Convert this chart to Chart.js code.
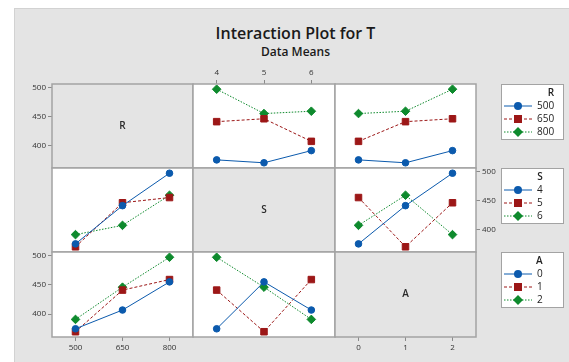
<!DOCTYPE html>
<html>
<head>
<meta charset="utf-8">
<script src="https://cdn.jsdelivr.net/npm/chart.js@4/dist/chart.umd.min.js"></script>
<style>
    html, body { margin: 0; padding: 0; background: #fff; }
    body { width: 569px; height: 362px; position: relative; overflow: hidden; font-family: "Open Sans", sans-serif; }
    #panel { position: absolute; left: 14px; top: 8px; width: 555px; height: 354px; background: #e4e4e4; border-top: 1px solid #d2d2d2; border-left: 1px solid #d2d2d2; }
    .txt { position: absolute; left: 18px; width: 555px; text-align: center; color: #1a1a1a; font-weight: 600; white-space: nowrap; }
    #title { top: 22px; font-size: 16px; }
    #subtitle { top: 43px; font-size: 12px; }
    .cell { position: absolute; }
</style>
</head>
<body>
<div id="panel"></div>
<div id="title" class="txt">Interaction Plot for T</div>
<div id="subtitle" class="txt">Data Means</div>
<script>

const factorNames = ['R', 'S', 'A'];
const rLevels = ['500', '650', '800'];
const sLevels = ['4', '5', '6'];
const aLevels = ['0', '1', '2'];
const levels = [rLevels, sLevels, aLevels];

// data means of T: rows = levels of the first factor, columns = levels of the second
const meanRS = [[375, 370, 391], [441, 446, 407], [497, 455, 459]];
const meanRA = [[375, 370, 391], [407, 441, 446], [455, 459, 497]];
const meanSA = [[375, 441, 497], [455, 370, 446], [407, 459, 391]];

const yTicks = [400, 450, 500];
const yMin = 361;
const yMax = 506;

const tables = { '0-1': meanRS, '0-2': meanRA, '1-2': meanSA };

// trace factor i, x factor j, trace level k, x level m
const meanOf = (i, j, k, m) => {
    if (i < j) return tables[`${i}-${j}`][k][m];
    return tables[`${j}-${i}`][m][k];
};

const traceStyles = [
    { color: '#0b5aad', dash: [], point: 'circle', radius: 3.3 },
    { color: '#9c1717', dash: [3, 2], point: 'rect', radius: 4.6 },
    { color: '#0e8a2d', dash: [1.5, 1.5], point: 'rectRot', radius: 4.3 },
];

const colX = [52, 193, 335, 476];
const rowY = [84, 168, 252, 337];
const PAD = 8;
const AX = 22;
const FONT = 'Open Sans';

const xAxisAt = { '0-1': 'top', '2-0': 'bottom', '2-2': 'bottom' };
const yAxisAt = { '0-0': 'left', '1-2': 'right', '2-0': 'left' };

const cellFrame = {
    id: 'cellFrame',
    beforeDraw(chart, args, opts) {
        const { ctx, chartArea: a } = chart;
        ctx.save();
        ctx.fillStyle = opts.diag ? '#e4e4e4' : '#ffffff';
        ctx.fillRect(a.left, a.top, a.width, a.height);
        ctx.restore();
    },
    afterDraw(chart, args, opts) {
        const { ctx, chartArea: a } = chart;
        ctx.save();
        ctx.strokeStyle = '#a3a3a3';
        ctx.lineWidth = 1.5;
        ctx.strokeRect(a.left, a.top, a.width, a.height);
        if (opts.diag) {
            ctx.fillStyle = '#2a2a2a';
            ctx.font = `600 10px "${FONT}"`;
            ctx.textAlign = 'center';
            ctx.textBaseline = 'middle';
            ctx.fillText(opts.diag, (a.left + a.right) / 2, (a.top + a.bottom) / 2);
        }
        ctx.restore();
    }
};

const axisGrid = { drawOnChartArea: false, drawTicks: true, tickLength: 4, color: '#8a8a8a', lineWidth: 1 };
const axisTicks = { font: { size: 8, family: FONT }, color: '#333', padding: 2, maxRotation: 0, autoSkip: false };

const addBox = (left, top, width, height) => {
    const div = document.createElement('div');
    div.className = 'cell';
    div.style.left = left + 'px';
    div.style.top = top + 'px';
    div.style.width = width + 'px';
    div.style.height = height + 'px';
    const canvas = document.createElement('canvas');
    div.appendChild(canvas);
    document.body.appendChild(div);
    return canvas;
};

for (let r = 0; r < 3; r++) {
    for (let c = 0; c < 3; c++) {
        const key = `${r}-${c}`;
        const xPos = xAxisAt[key];
        const yPos = yAxisAt[key];
        const ml = yPos === 'left' ? AX : 0;
        const mr = yPos === 'right' ? AX : 0;
        const mt = xPos === 'top' ? AX : 0;
        const mb = xPos === 'bottom' ? AX : 0;
        const canvas = addBox(
            colX[c] - PAD - ml,
            rowY[r] - PAD - mt,
            colX[c + 1] - colX[c] + 2 * PAD + ml + mr,
            rowY[r + 1] - rowY[r] + 2 * PAD + mt + mb
        );

        const datasets = r === c ? [] : levels[r].map((lv, k) => ({
            label: lv,
            data: levels[c].map((_, m) => meanOf(r, c, k, m)),
            borderColor: traceStyles[k].color,
            backgroundColor: traceStyles[k].color,
            borderWidth: 1,
            borderDash: traceStyles[k].dash,
            pointStyle: traceStyles[k].point,
            pointRadius: traceStyles[k].radius,
            pointBorderWidth: 1,
            tension: 0,
        }));

        new Chart(canvas, {
            type: 'line',
            data: { labels: levels[c], datasets: datasets },
            options: {
                animation: false,
                responsive: true,
                maintainAspectRatio: false,
                events: [],
                layout: { padding: PAD },
                plugins: {
                    legend: { display: false },
                    tooltip: { enabled: false },
                    cellFrame: { diag: r === c ? factorNames[r] : null },
                },
                scales: {
                    x: {
                        type: 'category',
                        labels: levels[c],
                        offset: true,
                        display: !!xPos,
                        position: xPos || 'bottom',
                        afterFit: (s) => { s.height = xPos ? AX : 0; },
                        grid: axisGrid,
                        border: { display: false },
                        ticks: axisTicks,
                    },
                    y: {
                        type: 'linear',
                        min: yMin,
                        max: yMax,
                        display: !!yPos,
                        position: yPos || 'left',
                        afterBuildTicks: (s) => { s.ticks = yTicks.map((v) => ({ value: v })); },
                        afterFit: (s) => { s.width = yPos ? AX : 0; },
                        grid: axisGrid,
                        border: { display: false },
                        ticks: axisTicks,
                    }
                }
            },
            plugins: [cellFrame]
        });
    }
}

// legend swatch: line sample with the marker in the middle
const makeSwatch = (st) => {
    const cv = document.createElement('canvas');
    cv.width = 28;
    cv.height = 10;
    const ctx = cv.getContext('2d');
    ctx.strokeStyle = st.color;
    ctx.fillStyle = st.color;
    ctx.lineWidth = 1;
    ctx.setLineDash(st.dash);
    ctx.beginPath();
    ctx.moveTo(0, 5);
    ctx.lineTo(28, 5);
    ctx.stroke();
    ctx.setLineDash([]);
    ctx.beginPath();
    if (st.point === 'circle') {
        ctx.arc(14, 5, 4, 0, Math.PI * 2);
    } else if (st.point === 'rect') {
        ctx.rect(10, 1, 8, 8);
    } else {
        ctx.moveTo(14, 0);
        ctx.lineTo(19, 5);
        ctx.lineTo(14, 10);
        ctx.lineTo(9, 5);
        ctx.closePath();
    }
    ctx.fill();
    return cv;
};
const swatches = traceStyles.map(makeSwatch);

const legendFrame = {
    id: 'legendFrame',
    beforeDraw(chart, args, opts) {
        const ctx = chart.ctx;
        ctx.save();
        ctx.fillStyle = '#ffffff';
        ctx.fillRect(0.5, 0.5, chart.width - 1, opts.h);
        ctx.strokeStyle = '#a3a3a3';
        ctx.lineWidth = 1;
        ctx.strokeRect(0.5, 0.5, chart.width - 1, opts.h);
        ctx.restore();
    }
};

for (let r = 0; r < 3; r++) {
    const canvas = addBox(501, rowY[r], 63, 75);
    new Chart(canvas, {
        type: 'line',
        data: {
            labels: [],
            datasets: levels[r].map((lv) => ({ label: lv, data: [] })),
        },
        options: {
            animation: false,
            responsive: true,
            maintainAspectRatio: false,
            events: [],
            scales: { x: { display: false }, y: { display: false } },
            plugins: {
                tooltip: { enabled: false },
                legendFrame: { h: 55 },
                legend: {
                    display: true,
                    position: 'top',
                    align: 'start',
                    maxHeight: 75,
                    title: {
                        display: true,
                        text: factorNames[r],
                        position: 'end',
                        color: '#222',
                        font: { size: 10, weight: '600', family: FONT },
                        padding: { top: 4, bottom: -2 },
                    },
                    labels: {
                        usePointStyle: true,
                        pointStyleWidth: 28,
                        boxHeight: 10,
                        padding: 3,
                        color: '#222',
                        font: { size: 10, family: FONT },
                        generateLabels: (chart) => chart.data.datasets.map((ds, k) => ({
                            text: ds.label,
                            pointStyle: swatches[k],
                            fillStyle: traceStyles[k].color,
                            strokeStyle: traceStyles[k].color,
                            lineWidth: 0,
                            hidden: false,
                            datasetIndex: k,
                        })),
                    }
                }
            }
        },
        plugins: [legendFrame]
    });
}
</script>
</body>
</html>
